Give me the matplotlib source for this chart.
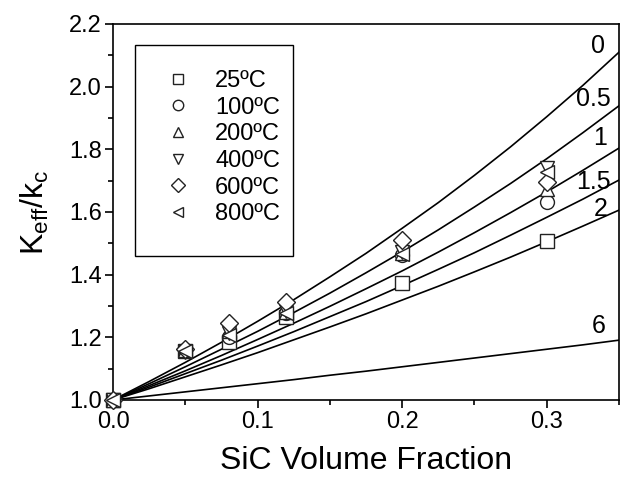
import matplotlib
matplotlib.use("Agg")
import matplotlib.pyplot as plt
from matplotlib.patches import Rectangle
from matplotlib.ticker import MultipleLocator

plt.rcParams['font.family'] = ['Liberation Sans', 'DejaVu Sans']
plt.rcParams['mathtext.default'] = 'regular'

# ---- data -------------------------------------------------------------
x_data = [0.0, 0.05, 0.08, 0.12, 0.20, 0.30]
temps = ['25ºC', '100ºC', '200ºC', '400ºC', '600ºC', '800ºC']
k_25 = [1.0, 1.155, 1.184, 1.266, 1.372, 1.508]
k_100 = [1.0, 1.160, 1.202, 1.277, 1.462, 1.632]
k_200 = [1.0, 1.158, 1.220, 1.280, 1.468, 1.672]
k_400 = [1.0, 1.152, 1.213, 1.285, 1.473, 1.740]
k_600 = [1.0, 1.163, 1.245, 1.314, 1.510, 1.696]
k_800 = [1.0, 1.155, 1.207, 1.277, 1.465, 1.728]
markers = ['s', 'o', '^', 'v', 'D', '<']

x_curve = [0.0, 0.025, 0.05, 0.075, 0.10, 0.125, 0.15, 0.175,
           0.20, 0.225, 0.25, 0.275, 0.30, 0.325, 0.35]
curve_labels = ['0', '0.5', '1', '1.5', '2', '6']
c_0 = [1.0, 1.059, 1.120, 1.184, 1.251, 1.320, 1.393, 1.468,
       1.548, 1.630, 1.717, 1.808, 1.904, 2.004, 2.110]
c_05 = [1.0, 1.052, 1.106, 1.162, 1.219, 1.279, 1.341, 1.406,
        1.473, 1.543, 1.616, 1.691, 1.770, 1.853, 1.939]
c_1 = [1.0, 1.046, 1.093, 1.142, 1.193, 1.245, 1.299, 1.355,
       1.412, 1.472, 1.534, 1.598, 1.664, 1.733, 1.804]
c_15 = [1.0, 1.041, 1.084, 1.127, 1.172, 1.218, 1.266, 1.314,
        1.365, 1.417, 1.470, 1.526, 1.583, 1.641, 1.702]
c_2 = [1.0, 1.036, 1.074, 1.112, 1.151, 1.192, 1.233, 1.275,
       1.319, 1.363, 1.409, 1.456, 1.505, 1.555, 1.606]
c_6 = [1.0, 1.013, 1.026, 1.039, 1.052, 1.065, 1.079, 1.092,
       1.106, 1.120, 1.134, 1.148, 1.162, 1.176, 1.191]
label_x = [0.3356, 0.332, 0.337, 0.332, 0.337, 0.336]
label_y = [2.129, 1.960, 1.837, 1.697, 1.611, 1.236]

# ---- figure -----------------------------------------------------------
fig = plt.figure(figsize=(6.21, 4.80), dpi=100)
ax = fig.add_axes([113/621, 80/480, 506/621, 376/480])

for c in [c_0, c_05, c_1, c_15, c_2, c_6]:
    ax.plot(x_curve, c, color='black', lw=1.2, zorder=2)

series = [k_25, k_100, k_200, k_400, k_600, k_800]
handles = []
for vals, m, t in zip(series, markers, temps):
    ms = 9 if m == 'D' else 10
    h, = ax.plot(x_data, vals, linestyle='none', marker=m, ms=ms,
                 mfc='white', mec='#222222', mew=1.0, label=t,
                 zorder=3, clip_on=False)
    handles.append(h)

for lx, ly, lab in zip(label_x, label_y, curve_labels):
    ax.text(lx, ly, lab, fontsize=18, ha='center', va='center', zorder=4)

ax.set_xlim(0, 0.35)
ax.set_ylim(1.0, 2.2)
ax.xaxis.set_major_locator(MultipleLocator(0.1))
ax.xaxis.set_minor_locator(MultipleLocator(0.05))
ax.yaxis.set_major_locator(MultipleLocator(0.2))
ax.yaxis.set_minor_locator(MultipleLocator(0.1))
ax.tick_params(which='both', direction='out', top=False, right=False,
               labelsize=17, width=1.2)
ax.tick_params(which='major', length=6, pad=2)
ax.tick_params(which='minor', length=3.5)
for s in ax.spines.values():
    s.set_linewidth(1.2)

ax.set_xlabel('SiC Volume Fraction', fontsize=23, labelpad=9)
ax.set_ylabel(r'K$_{eff}$/k$_c$', fontsize=23, labelpad=13)

# legend box
ax.add_patch(Rectangle((0.0435, 0.383), 0.3122, 0.561, transform=ax.transAxes,
                       fill=False, edgecolor='black', lw=1.0, zorder=5))
leg = ax.legend(handles=handles, loc='upper left',
                bbox_to_anchor=(0.105, 0.878), frameon=False, fontsize=17,
                borderpad=0, borderaxespad=0, handlelength=1.0,
                handletextpad=1.08, labelspacing=0.2, markerscale=0.75)

fig.savefig('out.png', dpi=100)
